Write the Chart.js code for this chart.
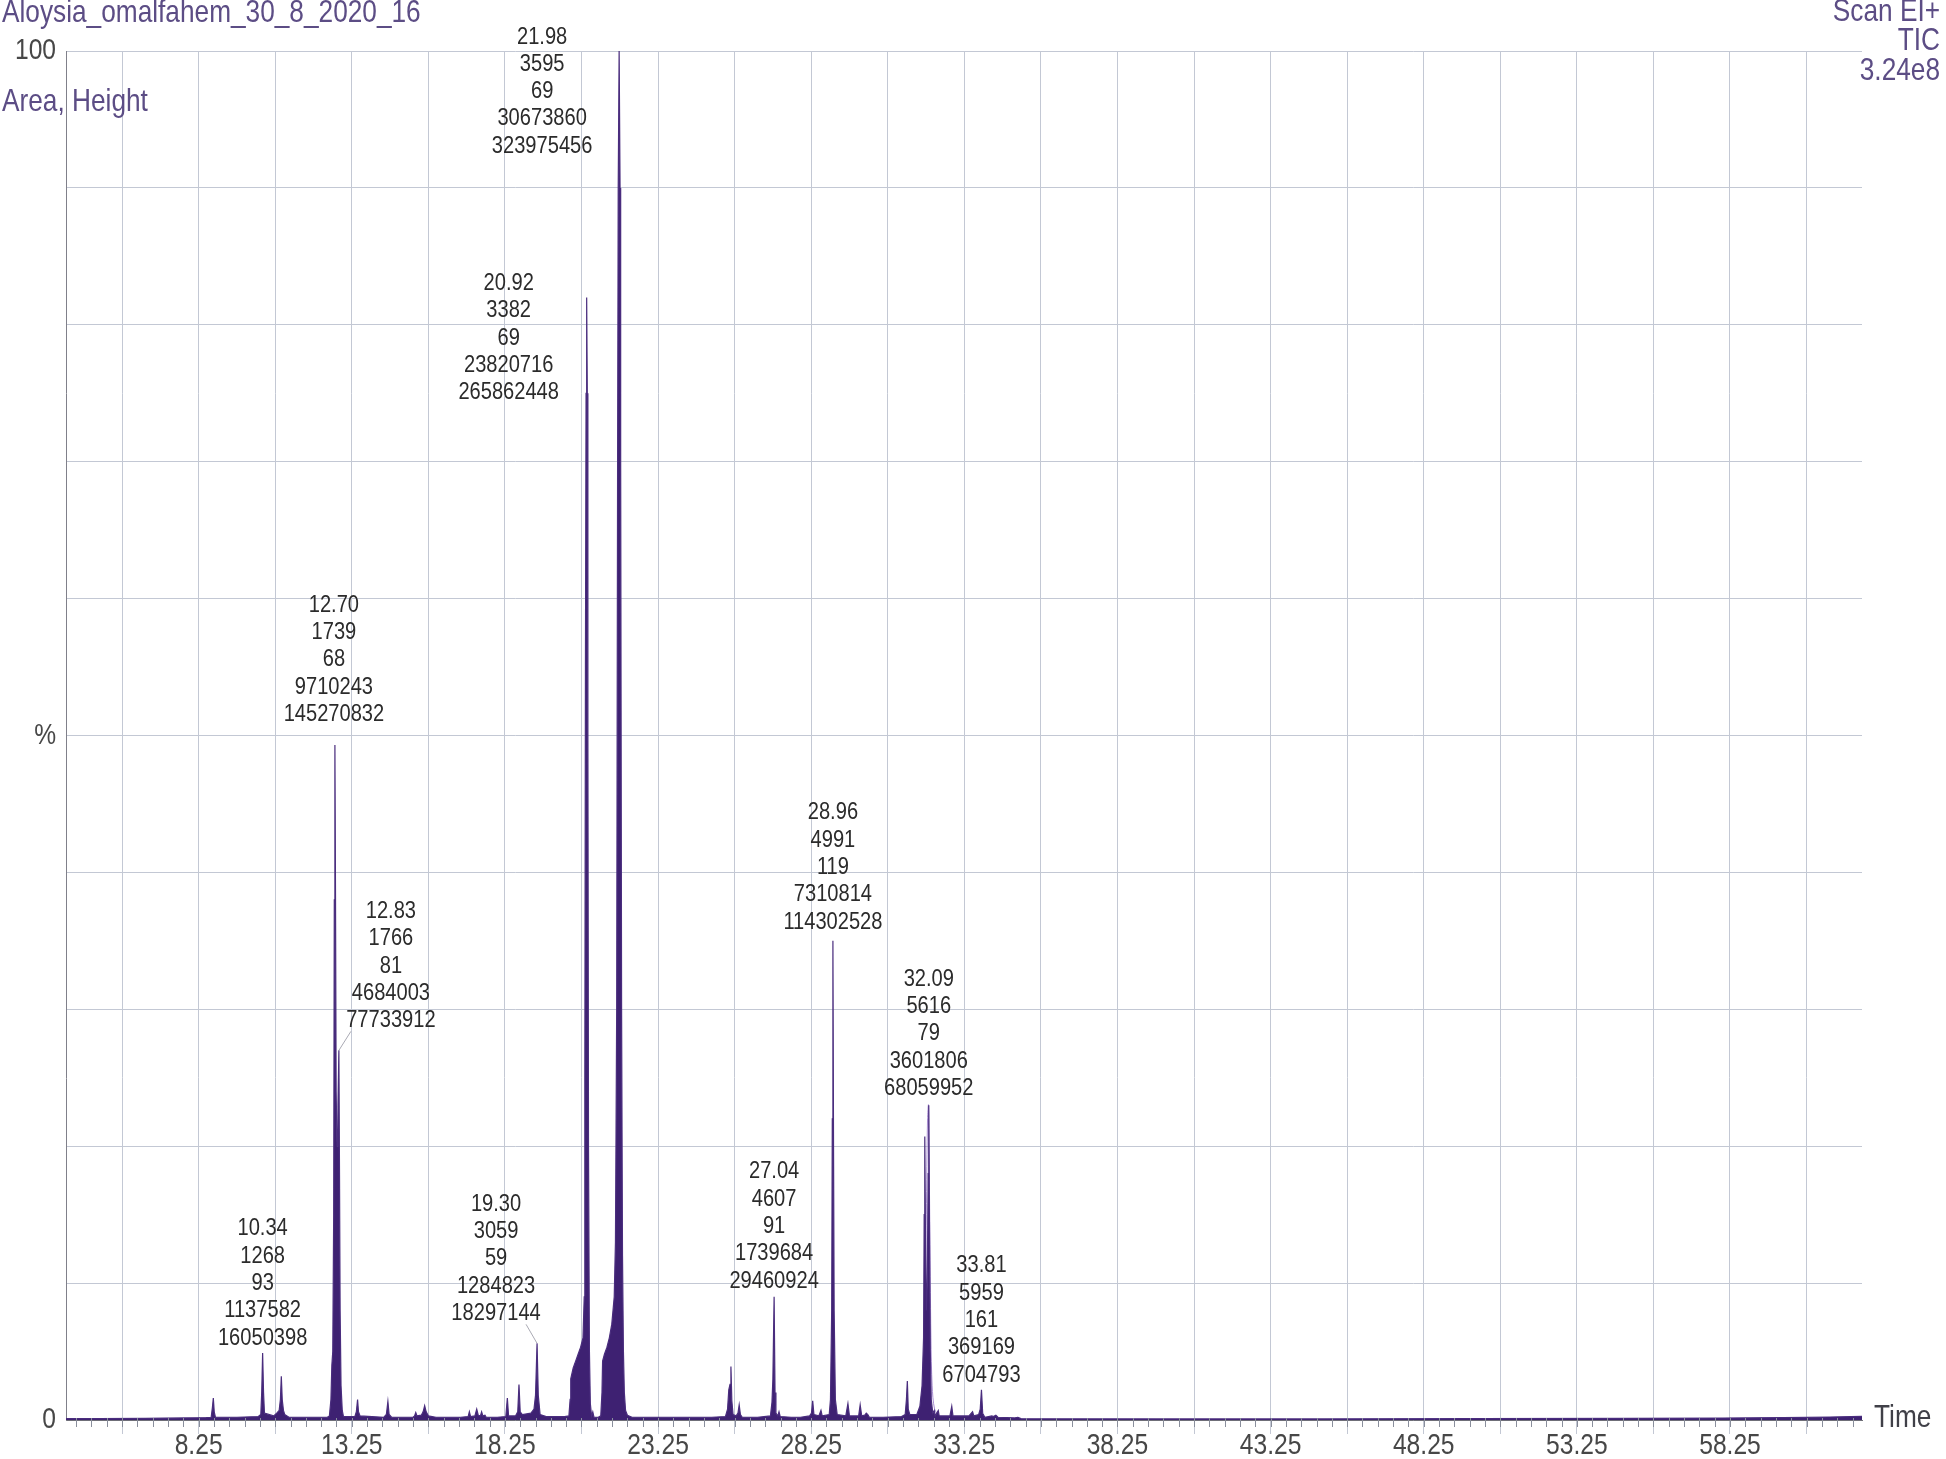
<!DOCTYPE html>
<html>
<head>
<meta charset="utf-8">
<script src="https://cdn.jsdelivr.net/npm/chart.js@4.4.1/dist/chart.umd.min.js"></script>
<style>
  html, body { margin: 0; padding: 0; background: #ffffff; }
  #wrap { width: 1946px; height: 1459px; position: relative; }
  canvas { display: block; }
</style>
</head>
<body>
<div id="wrap"><canvas id="c" width="1946" height="1459"></canvas></div>
<script>
// ---------------- DATA ----------------
// TIC trace: retention time (min) and relative abundance (%)
const traceTime = [
  3.92, 5.0, 6.5, 7.8, 8.5, 8.66, 8.70, 8.73, 8.76, 8.80, 9.5, 10.2, 10.28, 10.31, 10.34, 10.37, 10.40,
  10.70, 10.80, 10.88, 10.92, 10.95, 10.98, 11.02, 11.06, 11.2, 12.0, 12.45,
  12.52, 12.57, 12.60, 12.63, 12.66, 12.68, 12.70, 12.72, 12.74, 12.77, 12.80, 12.83, 12.85,
  12.87, 12.90, 12.94, 12.98,
  13.35, 13.40, 13.44, 13.47, 13.52, 14.30, 14.38, 14.43, 14.47, 14.55, 15.25, 15.30, 15.34, 15.38, 15.52,
  15.58, 15.63, 15.68, 15.75, 16.0, 16.8, 17.05, 17.09, 17.13, 17.27, 17.33, 17.38, 17.45, 17.49, 17.53,
  17.60, 17.64, 18.0, 18.28, 18.33, 18.37, 18.60, 18.67, 18.71, 18.75, 18.82, 19.10, 19.20, 19.25, 19.30,
  19.34, 19.40, 19.60, 20.20,
  20.34, 20.38, 20.40, 20.48, 20.56, 20.64, 20.72, 20.80, 20.84, 20.86, 20.88, 20.90, 20.92, 20.94, 20.96,
  20.98, 21.01, 21.04, 21.08, 21.12, 21.16, 21.30,
  21.38, 21.42, 21.44, 21.50, 21.58, 21.66, 21.74, 21.82, 21.86, 21.90, 21.93, 21.95, 21.98, 22.01, 22.03,
  22.06, 22.09, 22.12, 22.15, 22.19, 22.25, 22.40,
  25.0, 25.45, 25.52, 25.56, 25.60, 25.63, 25.66, 25.70, 25.80, 25.86, 25.90, 25.94, 26.0, 26.5,
  26.92, 26.97, 27.00, 27.04, 27.07, 27.10, 27.16, 27.20, 27.24, 27.60, 27.9, 28.2, 28.26, 28.30, 28.34,
  28.50, 28.57, 28.61, 28.84, 28.88, 28.92, 28.94, 28.96, 28.98, 29.00, 29.04, 29.10, 29.38, 29.45, 29.50,
  29.80, 29.85, 29.90, 30.00, 30.05, 30.10, 30.15, 30.6, 31.2, 31.32, 31.36, 31.39, 31.42, 31.47,
  31.70, 31.80, 31.87, 31.92, 31.94, 31.96, 31.98, 32.01, 32.04, 32.07, 32.09, 32.11, 32.14, 32.17, 32.22,
  32.27, 32.30, 32.40, 32.43, 32.78, 32.84, 32.88, 33.40, 33.52, 33.56, 33.72, 33.77, 33.81, 33.85, 33.92,
  34.15, 34.20, 34.28, 34.35, 34.9, 35.0, 35.1, 40.0, 45.0, 50.0, 55.0, 58.0, 60.0, 61.5, 62.56
];
const traceSignal = [
  0.10, 0.10, 0.12, 0.15, 0.18, 0.20, 0.9, 1.6, 0.6, 0.2, 0.2, 0.25, 0.4, 2.0, 4.9, 2.0, 0.5,
  0.3, 0.5, 0.7, 1.5, 3.2, 1.5, 0.7, 0.4, 0.2, 0.2, 0.2,
  0.3, 1.5, 4.0, 5.0, 15, 38, 49.3, 38, 24, 20, 23, 27, 18,
  8, 2.5, 0.7, 0.25,
  0.25, 0.6, 1.5, 0.6, 0.3, 0.2, 0.4, 1.35, 0.4, 0.2, 0.2, 0.3, 0.55, 0.3, 0.35,
  0.6, 1.05, 0.6, 0.3, 0.2, 0.2, 0.25, 0.6, 0.25, 0.3, 0.8, 0.35, 0.3, 0.6, 0.3,
  0.35, 0.2, 0.2, 0.25, 1.6, 0.3, 0.3, 0.6, 2.6, 0.6, 0.4, 0.5, 0.8, 1.8, 5.6,
  1.8, 0.4, 0.25, 0.25,
  0.3, 1.5, 3.0, 3.8, 4.3, 4.8, 5.3, 6.0, 9, 25, 55, 75, 82, 75, 50,
  20, 5, 1.2, 0.3, 0.6, 0.2, 0.2,
  0.3, 2.0, 4.3, 4.8, 5.3, 6.0, 7.0, 9.0, 13, 30, 70, 90, 100, 90, 70,
  30, 12, 5, 2.0, 0.7, 0.35, 0.2,
  0.2, 0.25, 0.8, 2.2, 2.6, 3.9, 1.4, 0.4, 0.3, 0.5, 1.1, 0.4, 0.2, 0.2,
  0.3, 1.3, 3, 9.0, 2.0, 0.5, 0.3, 0.6, 0.25, 0.2, 0.2, 0.3, 0.5, 1.4, 0.4,
  0.3, 0.7, 0.3, 0.4, 1.5, 8, 22, 35, 20, 8, 1.5, 0.4, 0.3, 1.2, 0.3,
  0.3, 1.1, 0.3, 0.35, 0.5, 0.4, 0.2, 0.2, 0.25, 0.4, 1.5, 2.85, 0.8, 0.4,
  0.4, 1.0, 2.5, 6, 15, 20.7, 14, 8, 10, 18, 23.0, 15, 5, 1.5, 0.5,
  0.7, 0.3, 0.7, 0.3, 0.3, 1.0, 0.3, 0.3, 0.6, 0.3, 0.4, 0.8, 2.2, 0.5, 0.2,
  0.3, 0.25, 0.35, 0.2, 0.15, 0.2, 0.1, 0.08, 0.08, 0.1, 0.12, 0.14, 0.18, 0.22, 0.27
];
// lighter integration envelope drawn around the 32.09 peak
const envTime   = [31.55, 31.75, 31.85, 31.92, 31.97, 32.01, 32.05, 32.08, 32.12, 32.16, 32.20, 32.28, 32.45];
const envSignal = [0.1, 0.5, 1.5, 3.5, 8, 15, 22, 23, 15, 6, 2.5, 0.8, 0.2];

// peak annotations (retention time, scan, base mass, area, height)
const annRT     = ['10.34', '12.70', '12.83', '19.30', '20.92', '21.98', '27.04', '28.96', '32.09', '33.81'];
const annScan   = ['1268', '1739', '1766', '3059', '3382', '3595', '4607', '4991', '5616', '5959'];
const annMass   = ['93', '68', '81', '59', '69', '69', '91', '119', '79', '161'];
const annArea   = ['1137582', '9710243', '4684003', '1284823', '23820716', '30673860', '1739684', '7310814', '3601806', '369169'];
const annHeight = ['16050398', '145270832', '77733912', '18297144', '265862448', '323975456', '29460924', '114302528', '68059952', '6704793'];

// axis ticks
const xGridValues = [5.75, 8.25, 10.75, 13.25, 15.75, 18.25, 20.75, 23.25, 25.75, 28.25, 30.75, 33.25, 35.75,
                     38.25, 40.75, 43.25, 45.75, 48.25, 50.75, 53.25, 55.75, 58.25, 60.75];
const xTickLabels = ['8.25', '13.25', '18.25', '23.25', '28.25', '33.25', '38.25', '43.25', '48.25', '53.25', '58.25'];
const yTickLabels = { 100: '100', 50: '%', 0: '0' };

const titleText = 'Aloysia_omalfahem_30_8_2020_16';
const subTitleText = 'Area, Height';
const rightHeader = ['Scan EI+', 'TIC', '3.24e8'];
const xAxisName = 'Time';

// ---------------- LAYOUT / STYLE ----------------
function fontExists(name) {
  const c = document.createElement('canvas').getContext('2d');
  const probe = '0123456789 abcdefghij ABCDEFG';
  c.font = '40px monospace';
  const a = c.measureText(probe).width;
  c.font = '40px "' + name + '", monospace';
  const b = c.measureText(probe).width;
  return Math.abs(a - b) > 0.5;
}
const HAS_NARROW = fontExists('Liberation Sans Narrow');
const FAM = HAS_NARROW ? '"Liberation Sans Narrow", "Liberation Sans", Arial, sans-serif' : '"Liberation Sans", Arial, sans-serif';
const SX = HAS_NARROW ? 1 : 0.82;

const PURPLE_TEXT = '#5c4d85';
const AXIS_TEXT = '#474747';
const GRID = '#c3c8d4';
const SZ_HEAD = 32, SZ_ANN = 24.5, SZ_TICK = 30;
// label offsets (px) relative to each annotated apex: [dx, dy of bottom line]
const labelOffsets = [[0, -15], [-1, -31], [52, -30], [-41, -30], [-78, 95], [-77, 95], [0, -16], [0, -19], [0, -17], [0, -15]];
const leaderFor = [2, 3];

const traceData = traceTime.map((t, i) => ({ x: t, y: traceSignal[i] }));
const envData = envTime.map((t, i) => ({ x: t, y: envSignal[i] }));

function apexOf(rt) {
  const t = parseFloat(rt);
  let best = 0;
  traceTime.forEach((tt, i) => { if (Math.abs(tt - t) < 0.025 && traceSignal[i] > best) best = traceSignal[i]; });
  return best;
}

function txt(ctx, s, x, y, size, align, color) {
  ctx.save();
  ctx.font = size + 'px ' + FAM;
  ctx.fillStyle = color;
  ctx.textAlign = align;
  ctx.textBaseline = 'middle';
  ctx.translate(x, y);
  ctx.scale(SX, 1);
  ctx.fillText(s, 0, 0);
  ctx.restore();
}

const decor = {
  id: 'decor',
  afterDatasetsDraw(chart) {
    const ctx = chart.ctx;
    const xs = chart.scales.x, ys = chart.scales.y;
    const area = chart.chartArea;
    ctx.save();
    // minor ticks on time axis
    ctx.strokeStyle = '#8a8f9c';
    ctx.lineWidth = 1;
    for (let t = 4.25; t < xs.max; t += 0.5) {
      const px = Math.round(xs.getPixelForValue(t)) + 0.5;
      ctx.beginPath();
      ctx.moveTo(px, area.bottom - 2);
      ctx.lineTo(px, area.bottom + 7);
      ctx.stroke();
    }
    ctx.restore();
    // tick labels when the narrow face is not available (condensed drawing)
    if (!HAS_NARROW) {
      xTickLabels.forEach(s => txt(ctx, s, xs.getPixelForValue(parseFloat(s)), area.bottom + 26, SZ_TICK, 'center', AXIS_TEXT));
      Object.keys(yTickLabels).forEach(k => txt(ctx, yTickLabels[k], area.left - 10, ys.getPixelForValue(+k), SZ_TICK, 'right', AXIS_TEXT));
    }
    // peak annotations
    const lh = 27.3;
    annRT.forEach((rt, i) => {
      const tipX = xs.getPixelForValue(parseFloat(rt));
      const tipY = ys.getPixelForValue(apexOf(rt));
      const cx = tipX + labelOffsets[i][0];
      const by = tipY + labelOffsets[i][1];
      const lines = [rt, annScan[i], annMass[i], annArea[i], annHeight[i]];
      lines.forEach((s, k) => txt(ctx, s, cx, by - (4 - k) * lh, SZ_ANN, 'center', '#2b2b2b'));
      if (leaderFor.includes(i)) {
        ctx.save();
        ctx.strokeStyle = '#a9a9b3';
        ctx.lineWidth = 1;
        ctx.beginPath();
        const sx = labelOffsets[i][0] > 0 ? cx - 40 : cx + 30;
        ctx.moveTo(sx, by + 11);
        ctx.lineTo(tipX, tipY);
        ctx.stroke();
        ctx.restore();
      }
    });
    // header texts
    txt(ctx, titleText, 2, 13, SZ_HEAD, 'left', PURPLE_TEXT);
    txt(ctx, subTitleText, 2, 102, SZ_HEAD, 'left', PURPLE_TEXT);
    rightHeader.forEach((s, k) => txt(ctx, s, 1940, 12 + k * 29.5, SZ_HEAD, 'right', PURPLE_TEXT));
    txt(ctx, xAxisName, 1874, area.bottom - 2, SZ_HEAD, 'left', '#404048');
  }
};

new Chart(document.getElementById('c'), {
  type: 'line',
  data: {
    datasets: [
      {
        data: envData,
        borderColor: 'rgba(160,130,205,0.9)',
        borderWidth: 1,
        pointRadius: 0,
        fill: false,
        tension: 0.3,
        order: 2
      },
      {
        data: traceData,
        borderColor: '#4a2d7e',
        backgroundColor: '#3e2172',
        borderWidth: 1.2,
        pointRadius: 0,
        fill: 'origin',
        tension: 0,
        order: 1
      }
    ]
  },
  options: {
    responsive: false,
    animation: false,
    devicePixelRatio: 1,
    layout: { padding: { top: 51, right: 84, bottom: 0, left: 0 } },
    plugins: { legend: { display: false }, tooltip: { enabled: false }, title: { display: false } },
    scales: {
      x: {
        type: 'linear',
        min: 3.92,
        max: 62.56,
        afterBuildTicks: (s) => { s.ticks = xGridValues.map(v => ({ value: v })); },
        afterFit: (s) => { s.height = 39; },
        grid: { color: GRID, lineWidth: 1, tickLength: 14, tickColor: GRID, drawTicks: true },
        border: { display: true, color: '#6f6f78', width: 1 },
        ticks: {
          display: HAS_NARROW,
          autoSkip: false, maxRotation: 0, minRotation: 0, padding: -2,
          color: AXIS_TEXT,
          font: { family: FAM, size: SZ_TICK, lineHeight: 1.0 },
          callback: (v) => { const s = v.toFixed(2); return xTickLabels.includes(s) ? s : ''; }
        }
      },
      y: {
        type: 'linear',
        min: 0,
        max: 100,
        afterBuildTicks: (s) => { const t = []; for (let v = 0; v <= 100; v += 10) t.push({ value: v }); s.ticks = t; },
        afterFit: (s) => { s.width = 66; },
        grid: { color: GRID, lineWidth: 1, drawTicks: false },
        border: { display: true, color: '#80808a', width: 1 },
        ticks: {
          display: HAS_NARROW,
          padding: 10,
          color: AXIS_TEXT,
          font: { family: FAM, size: SZ_TICK, lineHeight: 1.0 },
          callback: (v) => (yTickLabels[v] !== undefined ? yTickLabels[v] : '')
        }
      }
    }
  },
  plugins: [decor]
});
</script>
</body>
</html>
